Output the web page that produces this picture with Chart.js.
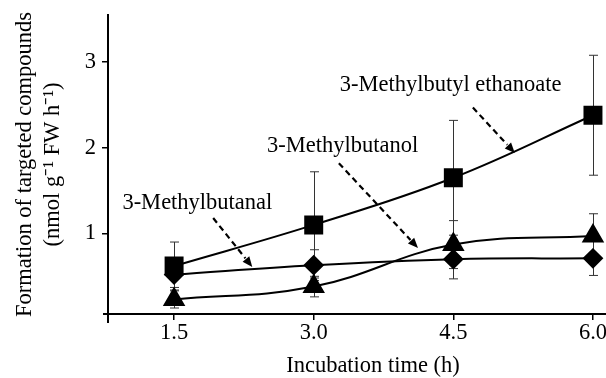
<!DOCTYPE html>
<html>
<head>
<meta charset="utf-8">
<script src="https://cdn.jsdelivr.net/npm/chart.js@4.4.1/dist/chart.umd.min.js"></script>
<style>
  html, body { margin: 0; padding: 0; background: #fff; }
  #wrap { width: 606px; height: 378px; }
</style>
</head>
<body>
<div id="wrap"><canvas id="c" width="606" height="378"></canvas></div>
<script>
// incubation times (h)
var times = [1.5, 3.0, 4.5, 6.0];
var xTickLabels = ['1.5', '3.0', '4.5', '6.0'];
var yTickValues = [1, 2, 3];
var xTitle = 'Incubation time (h)';

// nmol g-1 FW h-1
var ethanoate = [0.62, 1.10, 1.65, 2.38];
var ethanoateErr = [0.28, 0.62, 0.67, 0.70];
var butanal = [0.52, 0.63, 0.70, 0.71];
var butanalErr = [0.15, 0.18, 0.23, 0.20];
var butanol = [0.23, 0.38, 0.87, 0.97];
var butanolErr = [0.10, 0.12, 0.28, 0.26];

// callout labels and their dashed arrows (data coordinates)
var calloutNames = ['3-Methylbutyl ethanoate', '3-Methylbutanol', '3-Methylbutanal'];
var calloutText = [[4.47, 2.73], [3.31, 2.02], [1.75, 1.36]];
var calloutFrom = [[4.71, 2.47], [3.27, 1.82], [1.92, 1.18]];
var calloutTo = [[5.16, 1.94], [4.12, 0.83], [2.34, 0.61]];

var serif = 'Liberation Serif, Times New Roman, serif';

function pts(ys) {
    return times.map(function (t, i) { return { x: t, y: ys[i] }; });
}

var errorBars = {
    id: 'errorBars',
    beforeDatasetsDraw: function (chart) {
        var ctx = chart.ctx, xs = chart.scales.x, ys = chart.scales.y;
        ctx.save();
        ctx.strokeStyle = '#333';
        ctx.lineWidth = 1;
        chart.data.datasets.forEach(function (ds) {
            ds.data.forEach(function (p, i) {
                var e = ds.err[i];
                var px = Math.round(xs.getPixelForValue(p.x)) + 0.5;
                var top = ys.getPixelForValue(p.y + e);
                var bot = ys.getPixelForValue(p.y - e);
                ctx.beginPath();
                ctx.moveTo(px, top); ctx.lineTo(px, bot);
                ctx.moveTo(px - 4.5, top); ctx.lineTo(px + 4.5, top);
                ctx.moveTo(px - 4.5, bot); ctx.lineTo(px + 4.5, bot);
                ctx.stroke();
            });
        });
        ctx.restore();
    }
};

var callouts = {
    id: 'callouts',
    afterDatasetsDraw: function (chart) {
        var ctx = chart.ctx, xs = chart.scales.x, ys = chart.scales.y;
        ctx.save();
        ctx.fillStyle = '#000';
        ctx.font = '22.5px ' + serif;
        ctx.textAlign = 'center';
        ctx.textBaseline = 'middle';
        calloutNames.forEach(function (name, i) {
            ctx.fillText(name, xs.getPixelForValue(calloutText[i][0]), ys.getPixelForValue(calloutText[i][1]));
        });
        calloutFrom.forEach(function (f, i) {
            var x1 = xs.getPixelForValue(f[0]), y1 = ys.getPixelForValue(f[1]);
            var x2 = xs.getPixelForValue(calloutTo[i][0]), y2 = ys.getPixelForValue(calloutTo[i][1]);
            var a = Math.atan2(y2 - y1, x2 - x1);
            var head = 11;
            ctx.strokeStyle = '#000';
            ctx.lineWidth = 2.2;
            ctx.setLineDash([6, 4]);
            ctx.beginPath();
            ctx.moveTo(x1, y1);
            ctx.lineTo(x2 - Math.cos(a) * head, y2 - Math.sin(a) * head);
            ctx.stroke();
            ctx.setLineDash([]);
            ctx.beginPath();
            ctx.moveTo(x2, y2);
            ctx.lineTo(x2 - head * Math.cos(a - 0.4), y2 - head * Math.sin(a - 0.4));
            ctx.lineTo(x2 - head * Math.cos(a + 0.4), y2 - head * Math.sin(a + 0.4));
            ctx.closePath();
            ctx.fill();
        });
        ctx.restore();
    },
    afterDraw: function (chart) {
        var ctx = chart.ctx, a = chart.chartArea;
        ctx.save();
        // little overshoot where the two axes cross
        ctx.strokeStyle = '#000';
        ctx.lineWidth = 2;
        ctx.beginPath();
        ctx.moveTo(a.left - 5, a.bottom); ctx.lineTo(a.left, a.bottom);
        ctx.moveTo(a.left, a.bottom); ctx.lineTo(a.left, a.bottom + 9);
        ctx.stroke();
        // x title sits a bit right of the axis centre in the original
        ctx.fillStyle = '#000';
        ctx.font = '22.5px ' + serif;
        ctx.textAlign = 'center';
        ctx.textBaseline = 'middle';
        ctx.fillText(xTitle, a.left + 265, chart.height - 12);
        ctx.restore();
    }
};

var line = { borderColor: '#000', backgroundColor: '#000', borderWidth: 2, tension: 0.4, clip: false };

new Chart(document.getElementById('c'), {
    type: 'line',
    data: {
        datasets: [
            Object.assign({ label: '3-Methylbutyl ethanoate', data: pts(ethanoate), err: ethanoateErr, pointStyle: 'rect', pointRadius: 12 }, line),
            Object.assign({ label: '3-Methylbutanal', data: pts(butanal), err: butanalErr, pointStyle: 'rectRot', pointRadius: 9 }, line),
            Object.assign({ label: '3-Methylbutanol', data: pts(butanol), err: butanolErr, pointStyle: 'triangle', pointRadius: 11 }, line)
        ]
    },
    options: {
        responsive: false,
        animation: false,
        layout: { autoPadding: false, padding: { top: 15, right: 0, left: 0, bottom: 0 } },
        plugins: { legend: { display: false }, tooltip: { enabled: false } },
        scales: {
            x: {
                type: 'linear',
                min: 0.79,
                max: 6.14,
                afterBuildTicks: function (s) { s.ticks = times.map(function (v) { return { value: v }; }); },
                afterFit: function (s) { s.height = 64; s.paddingLeft = 0; s.paddingRight = 0; },
                ticks: {
                    color: '#000',
                    padding: 0,
                    font: { family: serif, size: 22.5 },
                    callback: function (v, i) { return xTickLabels[i]; }
                },
                grid: { drawOnChartArea: false, drawTicks: true, tickLength: 6, color: '#000', lineWidth: 1.5 },
                border: { display: true, color: '#000', width: 2 }
            },
            y: {
                type: 'linear',
                min: 0.06,
                max: 3.55,
                afterBuildTicks: function (s) { s.ticks = yTickValues.map(function (v) { return { value: v }; }); },
                afterFit: function (s) { s.width = 108; s.paddingTop = 0; s.paddingBottom = 0; },
                ticks: {
                    color: '#000',
                    padding: 6,
                    font: { family: serif, size: 22.5 },
                    callback: function (v) { return String(v); }
                },
                grid: { drawOnChartArea: false, drawTicks: true, tickLength: 6, color: '#000', lineWidth: 1.5 },
                border: { display: true, color: '#000', width: 2 },
                title: {
                    display: true,
                    text: ['Formation of targeted compounds', '(nmol g\u207B\u00B9 FW h\u207B\u00B9)'],
                    color: '#000',
                    font: { family: serif, size: 22.5, lineHeight: 1.25 },
                    padding: { top: 11, bottom: 0 }
                }
            }
        }
    },
    plugins: [errorBars, callouts]
});
</script>
</body>
</html>
